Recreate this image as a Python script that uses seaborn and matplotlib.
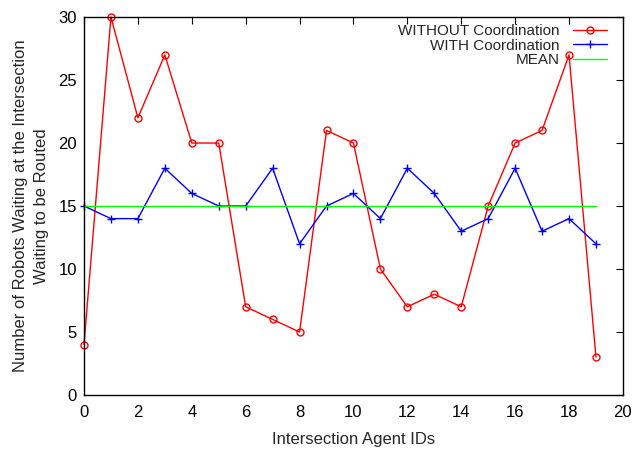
import numpy as np
import pandas as pd
import seaborn as sns
import matplotlib.pyplot as plt

# values
agent_ids = list(range(20))
without_coord = [4, 30, 22, 27, 20, 20, 7, 6, 5, 21, 20, 10, 7, 8, 7, 15, 20, 21, 27, 3]
with_coord = [15, 14, 14, 18, 16, 15, 15, 18, 12, 15, 16, 14, 18, 16, 13, 14, 18, 13, 14, 12]
mean_value = [15] * 20

sns.set_style("white")
plt.rcParams['font.family'] = ['Liberation Sans', 'DejaVu Sans']

df = pd.DataFrame({'id': agent_ids, 'without': without_coord,
                   'with': with_coord, 'mean': mean_value})

fig = plt.figure(figsize=(6.34, 4.51), dpi=100)
ax = fig.add_axes([0.1325, 0.1242, 0.85, 0.838])

sns.lineplot(x='id', y='without', data=df, ax=ax, color='red', linewidth=1,
             marker='o', markersize=5, markerfacecolor='none',
             markeredgecolor='red', markeredgewidth=1, clip_on=False,
             label='WITHOUT Coordination')
sns.lineplot(x='id', y='with', data=df, ax=ax, color='blue', linewidth=1,
             marker='+', markersize=6, markeredgewidth=1,
             markeredgecolor='blue', clip_on=False,
             label='WITH Coordination')
sns.lineplot(x='id', y='mean', data=df, ax=ax, color='#00ff00', linewidth=1,
             label='MEAN')

ax.set_xlim(0, 20)
ax.set_ylim(0, 30)
ax.set_xticks(range(0, 21, 2))
ax.set_yticks(range(0, 31, 5))
ax.tick_params(direction='in', length=5, width=0.8, top=True, right=True,
               labelsize=12, colors='black', pad=5)
ax.tick_params(axis='x', pad=7)
for s in ax.spines.values():
    s.set_color('black')
    s.set_linewidth(1)

ax.set_xlabel('Intersection Agent IDs', fontsize=12, labelpad=9)
ax.set_ylabel('Number of Robots Waiting at the Intersection\nWaiting to be Routed',
              fontsize=12, linespacing=1.45, labelpad=7)

ax.legend(loc='upper right', bbox_to_anchor=(0.983, 1.0), frameon=False,
          markerfirst=False, fontsize=11, numpoints=1, handlelength=2.2,
          labelspacing=0.05, handletextpad=0.9, borderaxespad=0.15,
          borderpad=0.3)

fig.savefig('out.png', dpi=100)
